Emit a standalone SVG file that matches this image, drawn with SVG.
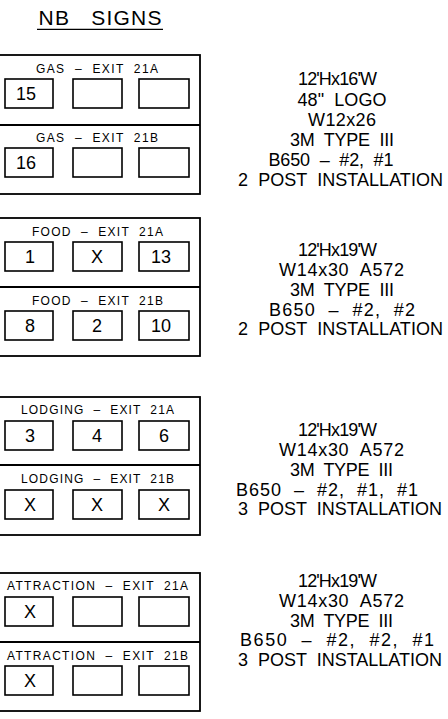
<svg xmlns="http://www.w3.org/2000/svg" width="448" height="719" viewBox="0 0 448 719">
<style>
text{font-family:"Liberation Sans",Arial,sans-serif;fill:#000;white-space:pre}
.frame{fill:none;stroke:#000;stroke-width:1.8}
.cell{fill:none;stroke:#000;stroke-width:1.6}
.lbl{font-size:12px;text-anchor:middle}
.num{font-size:18px;text-anchor:middle}
.spec{font-size:18px;text-anchor:middle}
.title{font-size:21px;text-anchor:middle}
</style>
<rect width="448" height="719" fill="#fff"/>
<g id="title">
<text class="title" x="100" y="25" textLength="123" lengthAdjust="spacing">NB   SIGNS</text>
<line x1="37" y1="29.3" x2="163" y2="29.3" stroke="#000" stroke-width="1.3"/>
</g>
<g id="connectors"/>

<g id="gas">
<rect class="frame" x="-2" y="55" width="202" height="139"/>
<line class="frame" x1="-2" y1="125" x2="200" y2="125"/>
<text class="lbl" x="97" y="73" textLength="122" lengthAdjust="spacing">GAS  –  EXIT  21A</text>
<rect class="cell" x="5" y="79" width="48" height="29"/><rect class="cell" x="73" y="79" width="49" height="29"/><rect class="cell" x="139" y="79" width="50" height="29"/>
<text class="num" x="26" y="99.5">15</text>
<text class="lbl" x="97" y="141.5" textLength="122" lengthAdjust="spacing">GAS  –  EXIT  21B</text>
<rect class="cell" x="5" y="148" width="48" height="29"/><rect class="cell" x="73" y="148" width="49" height="29"/><rect class="cell" x="139" y="148" width="50" height="29"/>
<text class="num" x="26" y="168.5">16</text>
</g>
<g id="gas-spec">
<text class="spec" x="337.5" y="85" textLength="79" lengthAdjust="spacing">12'Hx16'W</text>
<text class="spec" x="342" y="106" textLength="89" lengthAdjust="spacing">48"  LOGO</text>
<text class="spec" x="342" y="126" textLength="68" lengthAdjust="spacing">W12x26</text>
<text class="spec" x="342" y="146" textLength="104" lengthAdjust="spacing">3M  TYPE  III</text>
<text class="spec" x="331" y="166" textLength="125" lengthAdjust="spacing">B650  –  #2,  #1</text>
<text class="spec" x="340.5" y="186" textLength="205" lengthAdjust="spacing">2  POST  INSTALLATION</text>
</g>

<g id="food">
<rect class="frame" x="-2" y="218" width="202" height="138"/>
<line class="frame" x1="-2" y1="287" x2="200" y2="287"/>
<text class="lbl" x="97.5" y="236" textLength="131" lengthAdjust="spacing">FOOD  –  EXIT  21A</text>
<rect class="cell" x="5" y="242" width="48" height="29"/><rect class="cell" x="73" y="242" width="49" height="29"/><rect class="cell" x="139" y="242" width="50" height="29"/>
<text class="num" x="30" y="262.5">1</text><text class="num" x="97" y="262.5">X</text><text class="num" x="161" y="262.5">13</text>
<text class="lbl" x="97.5" y="305" textLength="131" lengthAdjust="spacing">FOOD  –  EXIT  21B</text>
<rect class="cell" x="5" y="311" width="48" height="29"/><rect class="cell" x="73" y="311" width="49" height="29"/><rect class="cell" x="139" y="311" width="50" height="29"/>
<text class="num" x="30" y="331.5">8</text><text class="num" x="97" y="331.5">2</text><text class="num" x="161" y="331.5">10</text>
</g>
<g id="food-spec">
<text class="spec" x="337.5" y="256" textLength="79" lengthAdjust="spacing">12'Hx19'W</text>
<text class="spec" x="341.5" y="276" textLength="125" lengthAdjust="spacing">W14x30  A572</text>
<text class="spec" x="342" y="296" textLength="104" lengthAdjust="spacing">3M  TYPE  III</text>
<text class="spec" x="342" y="316" textLength="146" lengthAdjust="spacing">B650  –  #2,  #2</text>
<text class="spec" x="340.5" y="335" textLength="205" lengthAdjust="spacing">2  POST  INSTALLATION</text>
</g>

<g id="lodging">
<rect class="frame" x="-2" y="397" width="202" height="138"/>
<line class="frame" x1="-2" y1="465" x2="200" y2="465"/>
<text class="lbl" x="97.5" y="414" textLength="153" lengthAdjust="spacing">LODGING  –  EXIT  21A</text>
<rect class="cell" x="5" y="421" width="48" height="29"/><rect class="cell" x="73" y="421" width="49" height="29"/><rect class="cell" x="139" y="421" width="50" height="29"/>
<text class="num" x="30" y="441.5">3</text><text class="num" x="97" y="441.5">4</text><text class="num" x="164" y="441.5">6</text>
<text class="lbl" x="97.5" y="483" textLength="153" lengthAdjust="spacing">LODGING  –  EXIT  21B</text>
<rect class="cell" x="5" y="490" width="48" height="29"/><rect class="cell" x="73" y="490" width="49" height="29"/><rect class="cell" x="139" y="490" width="50" height="29"/>
<text class="num" x="30" y="510.5">X</text><text class="num" x="97" y="510.5">X</text><text class="num" x="164" y="510.5">X</text>
</g>
<g id="lodging-spec">
<text class="spec" x="337.5" y="436" textLength="79" lengthAdjust="spacing">12'Hx19'W</text>
<text class="spec" x="341.5" y="456" textLength="125" lengthAdjust="spacing">W14x30  A572</text>
<text class="spec" x="341.5" y="476" textLength="103" lengthAdjust="spacing">3M  TYPE  III</text>
<text class="spec" x="327" y="496" textLength="182" lengthAdjust="spacing">B650  –  #2,  #1,  #1</text>
<text class="spec" x="340" y="515" textLength="204" lengthAdjust="spacing">3  POST  INSTALLATION</text>
</g>

<g id="attraction">
<rect class="frame" x="-2" y="573" width="202" height="138"/>
<line class="frame" x1="-2" y1="642" x2="200" y2="642"/>
<text class="lbl" x="97.5" y="590" textLength="181" lengthAdjust="spacing">ATTRACTION  –  EXIT  21A</text>
<rect class="cell" x="5" y="597" width="48" height="29"/><rect class="cell" x="73" y="597" width="49" height="29"/><rect class="cell" x="139" y="597" width="50" height="29"/>
<text class="num" x="30" y="617.5">X</text>
<text class="lbl" x="97.5" y="660" textLength="181" lengthAdjust="spacing">ATTRACTION  –  EXIT  21B</text>
<rect class="cell" x="5" y="666" width="48" height="29"/><rect class="cell" x="73" y="666" width="49" height="29"/><rect class="cell" x="139" y="666" width="50" height="29"/>
<text class="num" x="30" y="686.5">X</text>
</g>
<g id="attraction-spec">
<text class="spec" x="337.5" y="587" textLength="79" lengthAdjust="spacing">12'Hx19'W</text>
<text class="spec" x="341.5" y="607" textLength="125" lengthAdjust="spacing">W14x30  A572</text>
<text class="spec" x="341.5" y="627" textLength="103" lengthAdjust="spacing">3M  TYPE  III</text>
<text class="spec" x="337" y="646" textLength="194" lengthAdjust="spacing">B650  –  #2,  #2,  #1</text>
<text class="spec" x="340" y="666" textLength="204" lengthAdjust="spacing">3  POST  INSTALLATION</text>
</g>
</svg>
